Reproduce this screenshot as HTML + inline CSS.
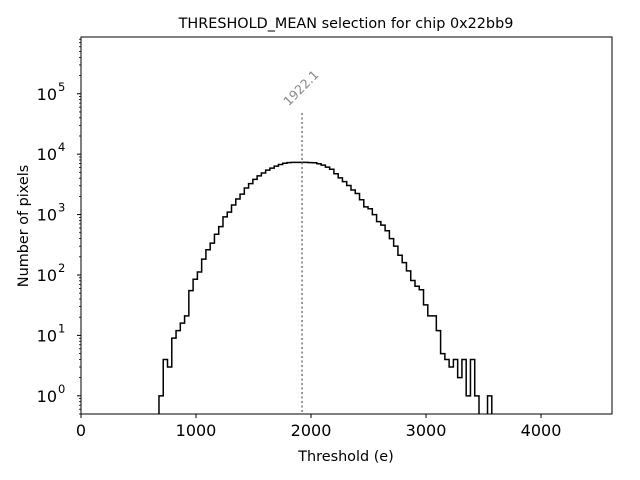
<!DOCTYPE html>
<html><head><meta charset="utf-8"><style>
body{margin:0;background:#fff;}
svg{display:block;font-family:"DejaVu Sans","Liberation Sans",sans-serif;}
</style></head><body>
<svg id="chart" width="640" height="480" viewBox="0 0 640 480">
<rect width="640" height="480" fill="#fff"/>
<text x="346" y="28" text-anchor="middle" font-size="14.4">THRESHOLD_MEAN selection for chip 0x22bb9</text>
<text x="346" y="461" text-anchor="middle" font-size="14.4">Threshold (e)</text>
<text transform="translate(28,226) rotate(-90)" text-anchor="middle" font-size="14.4">Number of pixels</text>
<g id="plot"></g>
</svg>
<script>
const binStart = 678;
const binWidth = 37.1;
const counts = [1,4,3,9,12,16,21,55,85,112,183,262,337,473,633,917,1100,1440,1810,2180,2750,3250,3830,4370,4880,5450,5870,6330,6740,7060,7240,7300,7300,7300,7300,7250,7200,6950,6600,6100,5620,4750,4060,3520,3030,2550,2230,1760,1340,1250,1000,765,670,540,400,300,212,160,117,81,65,57,32,21,21,12,5,4,3,4,2,4,1,4,1,0,0,1];
const xTicks = [0,1000,2000,3000,4000];
const yTickExps = [0,1,2,3,4,5];
const meanValue = 1922.1;
const meanLabel = "1922.1";

const L=81,R=612,T=37,B=414;
const xMin=0,xMax=4617,yMinLog=Math.log10(0.5),yMaxLog=Math.log10(8.7e5);
const sx=v=>L+(v-xMin)/(xMax-xMin)*(R-L);
const sy=v=>B-(Math.log10(v)-yMinLog)/(yMaxLog-yMinLog)*(B-T);
const NS="http://www.w3.org/2000/svg";
const g=document.getElementById('plot');
function mk(t,a){const e=document.createElementNS(NS,t);for(const k in a)e.setAttribute(k,a[k]);g.appendChild(e);return e;}

let d="";let prevOn=false;
for(let i=0;i<counts.length;i++){
  const x0=sx(binStart+i*binWidth),x1=sx(binStart+(i+1)*binWidth);
  const c=counts[i];
  if(c>0){
    const y=sy(c);
    if(!prevOn) d+=`M${x0},${B}L${x0},${y}`; else d+=`L${x0},${y}`;
    d+=`L${x1},${y}`;
    const next=counts[i+1]||0;
    if(next<=0) d+=`L${x1},${B}`;
    prevOn=true;
  } else prevOn=false;
}
const h=mk('path',{d:d,fill:'none',stroke:'#000','stroke-width':1.5});



const mx=sx(meanValue);
const ml=mk('line',{x1:mx,x2:mx,y1:113,y2:B,stroke:'#777','stroke-width':1.5,'stroke-dasharray':'2,2.5'});


const mt=mk('text',{x:mx+2,y:91,'font-size':12.5,fill:'#888',transform:`rotate(-45 ${mx+2} 91)`,'text-anchor':'middle'});
mt.textContent=meanLabel;



const fr=mk('rect',{x:L,y:T,width:R-L,height:B-T,fill:'none',stroke:'#000','stroke-width':1});



xTicks.forEach(v=>{
  const x=sx(v);
  mk('line',{x1:x,x2:x,y1:B,y2:B+4,stroke:'#000'});
  const t=mk('text',{x:x,y:B+22,'font-size':16,'text-anchor':'middle'});
  t.textContent=v;
  
  
});
yTickExps.forEach(e=>{
  const y=sy(Math.pow(10,e));
  mk('line',{x1:L-4,x2:L,y1:y,y2:y,stroke:'#000'});
  const t=mk('text',{x:L-24,y:y+6,'font-size':16,'text-anchor':'end'});
  t.textContent="10";
  
  
  const s=mk('text',{x:L-23,y:y-3,'font-size':11.5});
  s.textContent=String(e);
  
  
});
for(let e=-1;e<=5;e++){
  for(let m=2;m<=9;m++){
    const v=m*Math.pow(10,e);
    if(v<0.5||v>8.7e5)continue;
    const y=sy(v);
    mk('line',{x1:L-2,x2:L,y1:y,y2:y,stroke:'#000','stroke-width':0.8});
  }
}
</script>
</body></html>
